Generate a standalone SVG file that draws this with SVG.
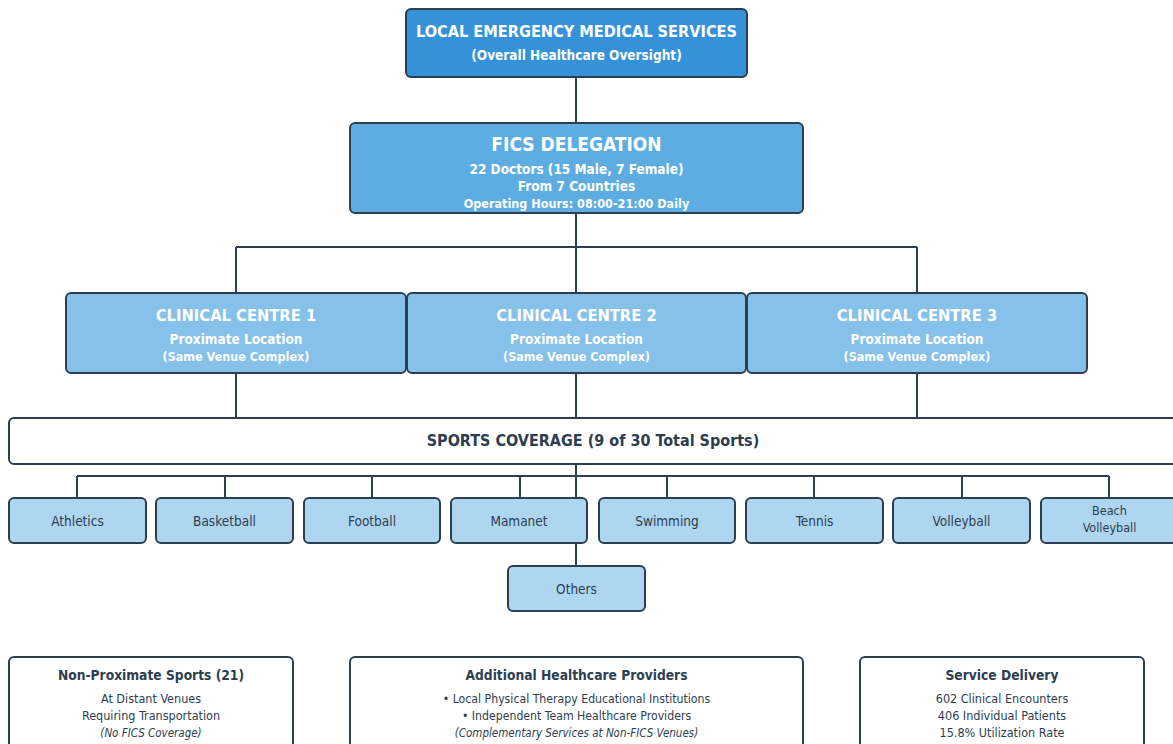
<svg xmlns="http://www.w3.org/2000/svg" width="1173" height="744" viewBox="0 0 1173 744">
<style>
.box{stroke:#2c3e50;stroke-width:2}
.lvl0{fill:#3592d9}
.lvl1{fill:#5dade2}
.lvl2{fill:#85c1e9}
.sport{fill:#aed6f1}
.white{fill:#ffffff}
text{font-family:"DejaVu Sans Condensed","DejaVu Sans",Verdana,sans-serif;text-anchor:middle}
.w{fill:#ffffff;font-weight:bold}
.d{fill:#2c3e50}
.db{fill:#2c3e50;font-weight:bold}
.conn line{stroke:#2c3e50;stroke-width:2}
</style>
<rect width="1173" height="744" fill="#ffffff"/>
<g class="conn">
<line x1="576" y1="77" x2="576" y2="123"/>
<line x1="576" y1="213" x2="576" y2="293"/>
<line x1="236" y1="247" x2="917" y2="247"/>
<line x1="236" y1="247" x2="236" y2="293"/>
<line x1="917" y1="247" x2="917" y2="293"/>
<line x1="236" y1="373" x2="236" y2="418"/>
<line x1="576" y1="373" x2="576" y2="418"/>
<line x1="917" y1="373" x2="917" y2="418"/>
<line x1="77" y1="476" x2="1109" y2="476"/>
<line x1="576" y1="464" x2="576" y2="498"/>
<line x1="77" y1="476" x2="77" y2="498"/>
<line x1="225" y1="476" x2="225" y2="498"/>
<line x1="372" y1="476" x2="372" y2="498"/>
<line x1="520" y1="476" x2="520" y2="498"/>
<line x1="667" y1="476" x2="667" y2="498"/>
<line x1="814" y1="476" x2="814" y2="498"/>
<line x1="962" y1="476" x2="962" y2="498"/>
<line x1="1109" y1="476" x2="1109" y2="498"/>
<line x1="576" y1="543" x2="576" y2="566"/>
</g>
<g id="ems">
<rect class="box lvl0" x="406" y="9" width="341" height="68" rx="5"/>
<text class="w" x="576.5" y="37" font-size="16.2">LOCAL EMERGENCY MEDICAL SERVICES</text>
<text class="w" x="576.5" y="60" font-size="13.5">(Overall Healthcare Oversight)</text>
</g>
<g id="fics">
<rect class="box lvl1" x="350" y="123" width="453" height="90" rx="5"/>
<text class="w" x="576.5" y="151" font-size="19">FICS DELEGATION</text>
<text class="w" x="576.5" y="174" font-size="13.5">22 Doctors (15 Male, 7 Female)</text>
<text class="w" x="576.5" y="191" font-size="13.5">From 7 Countries</text>
<text class="w" x="576.5" y="208" font-size="12.5">Operating Hours: 08:00-21:00 Daily</text>
</g>
<g id="cc1">
<rect class="box lvl2" x="66" y="293" width="340" height="80" rx="5"/>
<text class="w" x="236" y="321" font-size="16.4">CLINICAL CENTRE 1</text>
<text class="w" x="236" y="344" font-size="13.5">Proximate Location</text>
<text class="w" x="236" y="361" font-size="12.5">(Same Venue Complex)</text>
</g>
<g id="cc2">
<rect class="box lvl2" x="407" y="293" width="339" height="80" rx="5"/>
<text class="w" x="576.5" y="321" font-size="16.4">CLINICAL CENTRE 2</text>
<text class="w" x="576.5" y="344" font-size="13.5">Proximate Location</text>
<text class="w" x="576.5" y="361" font-size="12.5">(Same Venue Complex)</text>
</g>
<g id="cc3">
<rect class="box lvl2" x="747" y="293" width="340" height="80" rx="5"/>
<text class="w" x="917" y="321" font-size="16.4">CLINICAL CENTRE 3</text>
<text class="w" x="917" y="344" font-size="13.5">Proximate Location</text>
<text class="w" x="917" y="361" font-size="12.5">(Same Venue Complex)</text>
</g>
<g id="coverage">
<rect class="box white" x="9" y="418" width="1172" height="46" rx="5"/>
<text class="db" x="593" y="446" font-size="16">SPORTS COVERAGE (9 of 30 Total Sports)</text>
</g>
<g id="athletics"><rect class="box sport" x="9" y="498" width="137" height="45" rx="5"/><text class="d" x="77.5" y="526" font-size="13.5">Athletics</text></g>
<g id="basketball"><rect class="box sport" x="156" y="498" width="137" height="45" rx="5"/><text class="d" x="224.5" y="526" font-size="13.5">Basketball</text></g>
<g id="football"><rect class="box sport" x="304" y="498" width="136" height="45" rx="5"/><text class="d" x="372" y="526" font-size="13.5">Football</text></g>
<g id="mamanet"><rect class="box sport" x="451" y="498" width="136" height="45" rx="5"/><text class="d" x="519" y="526" font-size="13.5">Mamanet</text></g>
<g id="swimming"><rect class="box sport" x="599" y="498" width="136" height="45" rx="5"/><text class="d" x="667" y="526" font-size="13.5">Swimming</text></g>
<g id="tennis"><rect class="box sport" x="746" y="498" width="137" height="45" rx="5"/><text class="d" x="814.5" y="526" font-size="13.5">Tennis</text></g>
<g id="volleyball"><rect class="box sport" x="893" y="498" width="137" height="45" rx="5"/><text class="d" x="961.5" y="526" font-size="13.5">Volleyball</text></g>
<g id="beachvolleyball"><rect class="box sport" x="1041" y="498" width="137" height="45" rx="5"/><text class="d" x="1109.5" y="515" font-size="12.5">Beach</text><text class="d" x="1109.5" y="532" font-size="12.5">Volleyball</text></g>
<g id="others"><rect class="box sport" x="508" y="566" width="137" height="45" rx="5"/><text class="d" x="576.5" y="594" font-size="13.5">Others</text></g>
<g id="nonproximate">
<rect class="box white" x="9" y="657" width="284" height="100" rx="5"/>
<text class="db" x="151" y="680" font-size="13.7">Non-Proximate Sports (21)</text>
<text class="d" x="151" y="703" font-size="12.5">At Distant Venues</text>
<text class="d" x="151" y="720" font-size="12.5">Requiring Transportation</text>
<text class="d" x="151" y="737" font-size="11.5" font-style="italic">(No FICS Coverage)</text>
</g>
<g id="additional">
<rect class="box white" x="350" y="657" width="453" height="100" rx="5"/>
<text class="db" x="576.5" y="680" font-size="13.7">Additional Healthcare Providers</text>
<text class="d" x="576.5" y="703" font-size="12.2">• Local Physical Therapy Educational Institutions</text>
<text class="d" x="576.5" y="720" font-size="12.2">• Independent Team Healthcare Providers</text>
<text class="d" x="576.5" y="737" font-size="11.5" font-style="italic">(Complementary Services at Non-FICS Venues)</text>
</g>
<g id="delivery">
<rect class="box white" x="860" y="657" width="284" height="100" rx="5"/>
<text class="db" x="1002" y="680" font-size="13.7">Service Delivery</text>
<text class="d" x="1002" y="703" font-size="12.5">602 Clinical Encounters</text>
<text class="d" x="1002" y="720" font-size="12.5">406 Individual Patients</text>
<text class="d" x="1002" y="737" font-size="12.5">15.8% Utilization Rate</text>
</g>
</svg>
